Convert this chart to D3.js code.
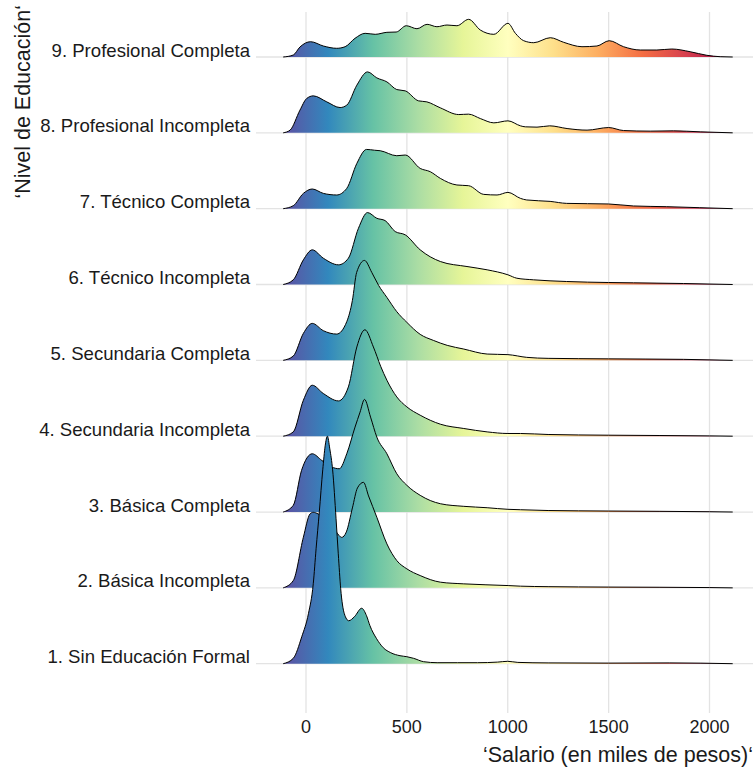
<!DOCTYPE html>
<html><head><meta charset="utf-8">
<script src="https://cdn.jsdelivr.net/npm/d3@7"></script>
<style>
body{margin:0;background:#fff}
text{font-family:"Liberation Sans",Arial,Helvetica,sans-serif;fill:#1a1a1a}
</style>
</head><body>
<svg id="chart" width="755" height="767"></svg>
<script>
// ---------- data ----------
const categories = [
  "1. Sin Educación Formal",
  "2. Básica Incompleta",
  "3. Básica Completa",
  "4. Secundaria Incompleta",
  "5. Secundaria Completa",
  "6. Técnico Incompleta",
  "7. Técnico Completa",
  "8. Profesional Incompleta",
  "9. Profesional Completa"
];
const xTicks = [0, 500, 1000, 1500, 2000];
const xTitle = "‘Salario (en miles de pesos)‘";
const yTitle = "‘Nivel de Educación‘";
const densityRange = [-113, 2115];

// [salary (thousands), relative density]
const row1 = [[-113,0],[-63,5.4],[-21,27],[12,50],[36,80],[50,115],[66,152],[83,194],[95,218],[106,227.7],[118,215],[132,194],[149,145],[160,110],[172,75],[190,50],[212,43],[240,47],[276,55.5],[300,48],[317,38],[350,25],[383,16],[420,11],[466,8],[500,7],[533,5.4],[583,2],[650,1],[750,1],[850,1],[950,1.6],[1000,2.4],[1050,1.3],[1200,0.8],[1500,0.6],[1800,0.8],[2115,0]];
const row2 = [[-113,0],[-63,7.3],[-13,50.7],[20,74],[36,75.6],[60,74],[90,70],[120,64],[150,56],[177,50.5],[200,56],[230,80],[255,100],[285,105.6],[310,92],[351,70.7],[401,44],[450,27.3],[500,19],[566,12.3],[666,5.7],[782,4],[1002,2.3],[1063,1.7],[1200,1.2],[1500,0.8],[2000,0.3],[2115,0]];
const row3 = [[-113,0],[-63,6.7],[-22,41.7],[31,58.3],[78,51.7],[128,45],[165,43.3],[202,58.3],[243,85],[268,100],[290,112.7],[320,95],[351,75],[401,58.3],[450,38.3],[500,26.7],[566,16.7],[666,8.3],[782,5.7],[898,4.3],[1001,2.7],[1063,2.3],[1200,1.5],[1500,1],[2000,0.3],[2115,0]];
const row4 = [[-113,0],[-63,4.3],[-13,36],[31,51],[86,42.7],[161,35.3],[210,49.3],[252,89.3],[292,106.5],[334,89.3],[370,70],[401,56],[450,39.3],[500,29.3],[566,21],[666,12],[782,7.7],[898,4.3],[1001,2.7],[1063,2.7],[1200,1.7],[1500,1],[2000,0.3],[2115,0]];
const row5 = [[-113,0],[-63,4.3],[-13,27],[31,37],[86,29.7],[152,26.3],[202,38.7],[230,60],[251,88],[290,100],[326,88],[360,75],[401,63],[450,48.7],[500,38],[566,26],[631,20],[700,15],[782,11.3],[898,6.3],[1001,5.7],[1094,3],[1200,2],[1499,1.5],[1871,1],[2115,0]];
const row6 = [[-113,0],[-63,4.7],[-13,24.7],[31,34.7],[86,26.3],[161,19.7],[210,26.3],[260,56.3],[305,72],[351,66.3],[392,64],[442,53],[492,49.7],[566,34.7],[666,23],[798,18],[898,14.7],[1001,9.7],[1045,6.3],[1127,4.7],[1292,3],[1499,2],[1623,1.7],[1871,1],[2115,0]];
const row7 = [[-113,0],[-63,3],[-13,15.3],[31,19.7],[86,15.3],[152,13.7],[202,20.3],[252,45.3],[300,59.3],[340,58.5],[368,58],[450,53],[492,53.7],[566,40.3],[616,37],[666,30.3],[748,23.7],[806,23],[881,14.3],[947,13.7],[1001,16.3],[1063,10.3],[1094,8.7],[1210,7.3],[1292,5.3],[1499,4.7],[1623,2.7],[1788,2],[1952,1],[2115,0]];
const row8 = [[-113,0],[-79,2.7],[-30,22.7],[3,34.3],[36,37],[103,31],[169,25.3],[202,27.7],[252,47.7],[305,61],[351,55],[401,51],[450,43.3],[492,42],[558,32],[599,31],[666,25],[757,18.3],[806,18.7],[864,14.3],[931,10],[1001,12],[1063,7],[1087,6],[1145,5.7],[1208,7],[1294,4.3],[1393,2.7],[1500,5.3],[1574,2.3],[1706,1.7],[1822,2],[1954,1],[2115,0]];
const row9 = [[-113,0],[-63,2],[-30,10],[23,15.3],[86,11],[152,8.7],[194,10.3],[243,18.7],[293,23.7],[343,22.7],[401,24.7],[447,25],[497,31.3],[550,28.3],[600,32.7],[649,30.3],[699,32],[748,31.3],[806,37.7],[864,27],[931,22.7],[1001,33.7],[1038,23.7],[1079,16.3],[1129,14.3],[1211,19.3],[1277,14.7],[1368,10.3],[1442,11],[1503,16.3],[1574,10.3],[1657,7],[1739,7],[1813,8],[1904,5.3],[1987,1.7],[2053,0.3],[2115,0]];
const series = [row1,row2,row3,row4,row5,row6,row7,row8,row9];
const ridgeScale = 3;

// ---------- layout ----------
const svg = d3.select("#chart");
const panel = {left:256, right:753, top:12, bottom:713};
const x = d3.scaleLinear().domain([0,2000]).range([306,709.5]);
const y = d3.scalePoint().domain(categories).range([663.7,57]);
const step = y.step();
const maxD = d3.max(series, s => d3.max(s, d => d[1]));
const hgt = d3.scaleLinear().domain([0,maxD]).range([0, ridgeScale*step]);

// gradient (Spectral, reversed: blue -> red)
const cols = d3.schemeSpectral[11].slice().reverse();
const grad = svg.append("defs").append("linearGradient")
  .attr("id","spec").attr("gradientUnits","userSpaceOnUse")
  .attr("x1", x(densityRange[0])).attr("x2", x(densityRange[1]))
  .attr("y1",0).attr("y2",0);
cols.forEach((c,i)=> grad.append("stop").attr("offset", i/(cols.length-1)).attr("stop-color", c));

// grid
const grid = svg.append("g").attr("stroke","#e3e3e3").attr("stroke-width",1.3);
xTicks.forEach(t => grid.append("line").attr("x1",x(t)).attr("x2",x(t)).attr("y1",panel.top).attr("y2",panel.bottom));
categories.forEach(c => grid.append("line").attr("x1",panel.left).attr("x2",panel.right).attr("y1",y(c)).attr("y2",y(c)));

// ridges (top row first so lower rows overlap)
for (let i = series.length-1; i >= 0; i--) {
  const base = y(categories[i]);
  const area = d3.area().x(d=>x(d[0])).y0(base).y1(d=>base - hgt(d[1])).curve(d3.curveMonotoneX);
  const line = d3.line().x(d=>x(d[0])).y(d=>base - hgt(d[1])).curve(d3.curveMonotoneX);
  svg.append("path").datum(series[i]).attr("d", area).attr("fill","url(#spec)");
  svg.append("path").datum(series[i]).attr("d", line).attr("fill","none").attr("stroke","#000").attr("stroke-width",1);
}

// axis labels
svg.append("g").selectAll("text").data(xTicks).join("text")
  .attr("x", d=>x(d)).attr("y", 733).attr("text-anchor","middle").attr("font-size",18).text(d=>d);
svg.append("g").selectAll("text").data(categories).join("text")
  .attr("x", 250).attr("y", d=>y(d)-0.5).attr("text-anchor","end").attr("font-size",18.6).text(d=>d);
svg.append("text").attr("x",753).attr("y",762).attr("text-anchor","end").attr("font-size",21.5).text(xTitle);
svg.append("text").attr("transform","translate(30,5) rotate(-90)").attr("text-anchor","end").attr("font-size",21.5).text(yTitle);
</script>
</body></html>
